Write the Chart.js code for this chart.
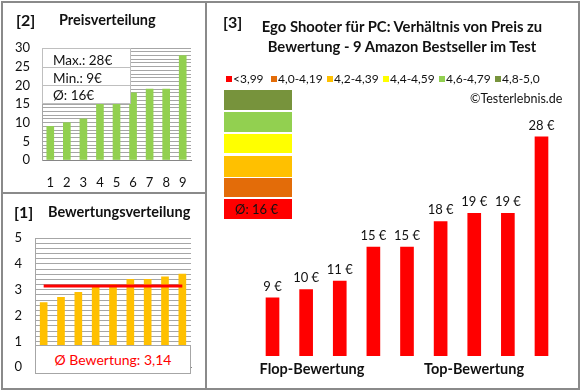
<!DOCTYPE html>
<html><head><meta charset="utf-8">
<script src="https://cdn.jsdelivr.net/npm/chart.js@4.4.0/dist/chart.umd.min.js"></script>
<style>
body{margin:0;background:#fff;font-family:Lato,"Open Sans",sans-serif;}
#wrap{position:relative;width:580px;height:390px;overflow:hidden;background:#fff;}
canvas{position:absolute;}
.a{position:absolute;white-space:nowrap;color:#111;}
.b{font-weight:bold;}
.ln{position:absolute;background:#8a8a8a;}
.sq{position:absolute;width:6px;height:6px;}
.lg{position:absolute;font-size:12px;line-height:14px;height:14px;color:#111;}
.cb{position:absolute;left:224px;width:68px;}
</style></head><body>
<div id="wrap">
  <canvas id="c2" width="205" height="192" style="left:0;top:0"></canvas>
  <canvas id="c1" width="205" height="196" style="left:0;top:192px"></canvas>
  <canvas id="c3" width="375" height="390" style="left:205px;top:0"></canvas>

  <!-- frame -->
  <div class="ln" style="left:1px;top:1px;width:579px;height:2px"></div>
  <div class="ln" style="left:1px;top:388px;width:579px;height:2px"></div>
  <div class="ln" style="left:1px;top:1px;width:2px;height:389px"></div>
  <div class="ln" style="left:578px;top:1px;width:2px;height:389px"></div>
  <div class="ln" style="left:205px;top:1px;width:2px;height:389px"></div>
  <div class="ln" style="left:1px;top:192px;width:205px;height:2px"></div>

  <!-- panel 2 -->
  <div class="a b" style="left:16px;top:11px;font-size:16px;line-height:18px">[2]</div>
  <div class="a b" style="left:59px;top:11px;font-size:14.5px;line-height:18px">Preisverteilung</div>
  <div id="statBox" class="a" style="left:42px;top:48px;width:89px;height:56px;background:#fff;border:1px solid #bfbfbf;box-sizing:border-box;font-size:13.5px;">
    <div id="sMax" style="position:absolute;left:10px;top:3px;line-height:16px"></div>
    <div style="position:absolute;left:0;top:18px;width:87px;height:1px;background:#bfbfbf"></div>
    <div id="sMin" style="position:absolute;left:10px;top:21px;line-height:16px"></div>
    <div style="position:absolute;left:0;top:36px;width:87px;height:1px;background:#bfbfbf"></div>
    <div id="sAvg" style="position:absolute;left:10px;top:38px;line-height:16px"></div>
  </div>

  <!-- panel 1 -->
  <div class="a b" style="left:14px;top:203px;font-size:16px;line-height:18px">[1]</div>
  <div class="a b" style="left:48px;top:203px;font-size:14.5px;line-height:18px">Bewertungsverteilung</div>
  <div id="avgBox" class="a" style="left:35px;top:345px;width:156px;height:29px;background:#fff;border:1px solid #a6a6a6;box-sizing:border-box;font-size:14px;line-height:27px;text-align:center;color:#ff0000"></div>

  <!-- panel 3 -->
  <div class="a b" style="left:223px;top:13px;font-size:16px;line-height:18px">[3]</div>
  <div class="a b" style="left:252px;top:17px;width:300px;text-align:center;font-size:14.8px;line-height:18px">Ego Shooter für PC: Verhältnis von Preis zu</div>
  <div class="a b" style="left:252px;top:37px;width:300px;text-align:center;font-size:14.8px;line-height:18px">Bewertung - 9 Amazon Bestseller im Test</div>
  <div id="legend"></div>
  <div class="a" style="left:470px;top:92px;font-size:12.5px;line-height:14px">©Testerlebnis.de</div>
  <div id="stack"></div>
  <div class="a" style="left:200px;top:360px;width:224px;text-align:center;font-size:14.5px;line-height:18px;font-weight:bold">Flop-Bewertung</div>
  <div class="a" style="left:362px;top:360px;width:224px;text-align:center;font-size:14.5px;line-height:18px;font-weight:bold">Top-Bewertung</div>
</div>
<script>
// ---- data ----
const productIndex = ['1','2','3','4','5','6','7','8','9'];
const prices = [9, 10, 11, 15, 15, 18, 19, 19, 28];
const ratings = [2.5, 2.7, 2.9, 3.1, 3.2, 3.4, 3.4, 3.5, 3.6];
const avgRatingLine = [3.14, 3.14, 3.14, 3.14, 3.14, 3.14, 3.14, 3.14, 3.14];
const avgRatingText = '3,14';
const maxPrice = 28;
const minPrice = 9;
const avgPrice = 16;
const priceTickLabels = [0, 5, 10, 15, 20, 25, 30];
const ratingTickLabels = [0, 1, 2, 3, 4, 5];
const legendLabels = ['<3,99', '4,0-4,19', '4,2-4,39', '4,4-4,59', '4,6-4,79', '4,8-5,0'];
const legendColors = ['#ff0000', '#e36c09', '#ffc000', '#ffff00', '#92d050', '#77933c'];

// ---- html bits ----
document.getElementById('sMax').textContent = 'Max.: ' + maxPrice + '€';
document.getElementById('sMin').textContent = 'Min.: ' + minPrice + '€';
document.getElementById('sAvg').textContent = 'Ø: ' + avgPrice + '€';
document.getElementById('avgBox').textContent = 'Ø Bewertung: ' + avgRatingText;

const legSq = [226, 271, 327, 383, 439, 495];
const legTx = [233, 278, 334, 390, 446, 502];
let lh = '';
legendLabels.forEach((l, i) => {
  lh += `<div class="sq" style="left:${legSq[i]}px;top:76px;background:${legendColors[i]}"></div>`;
  lh += `<div class="lg" style="left:${legTx[i]}px;top:72px">${l.replace('<','&lt;')}</div>`;
});
document.getElementById('legend').innerHTML = lh;

const stackTops = [90, 112, 134, 156, 178, 199];
const stackH = [20, 20, 19, 21, 19, 20];
const stackCols = ['#77933c', '#92d050', '#ffff00', '#ffc000', '#e36c09', '#ff0000'];
let sh = '';
stackCols.forEach((c, i) => {
  sh += `<div class="cb" style="top:${stackTops[i]}px;height:${stackH[i]}px;background:${c}"></div>`;
});
sh += `<div class="a" style="left:235px;top:201px;font-size:13px;line-height:16px;color:#111">Ø: ${avgPrice} €</div>`;
document.getElementById('stack').innerHTML = sh;

// ---- charts ----
const FONT = 'Lato';
const base = {responsive:false, animation:false, plugins:{legend:{display:false}, tooltip:{enabled:false}}};

new Chart(document.getElementById('c2'), {
  type: 'bar',
  data: {labels: productIndex, datasets: [{data: prices, backgroundColor: '#92d050', barThickness: 7}]},
  options: Object.assign({}, base, {
    layout: {padding: {left: 0, right: 14, top: 48, bottom: 0}},
    scales: {
      x: {grid: {display: false, drawTicks: false}, border: {color: '#868686'},
          ticks: {padding: 15, color: '#111', font: {family: FONT, size: 13}, maxRotation: 0, autoSkip: false},
          afterFit(s) { s.height = 32; }},
      y: {min: 0, max: 30, grid: {color: '#a6a6a6', drawTicks: false}, border: {color: '#a6a6a6'},
          ticks: {stepSize: 1, autoSkip: false, padding: 12, color: '#111', font: {family: FONT, size: 13},
                  callback: v => priceTickLabels.includes(v) ? String(v) : ''},
          afterFit(s) { s.width = 42; }}
    }
  })
});

new Chart(document.getElementById('c1'), {
  type: 'bar',
  data: {labels: productIndex, datasets: [
    {type: 'line', data: avgRatingLine, borderColor: '#ff0000', borderWidth: 3, pointRadius: 0, fill: false},
    {data: ratings, backgroundColor: '#ffc000', barThickness: 7}
  ]},
  options: Object.assign({}, base, {
    layout: {padding: {left: 0, right: 14, top: 46, bottom: 0}},
    scales: {
      x: {grid: {display: false, drawTicks: false}, border: {color: '#868686'}, ticks: {display: false},
          afterFit(s) { s.height = 15; }},
      y: {min: 0, max: 5, grid: {color: '#a6a6a6', drawTicks: false}, border: {color: '#a6a6a6'},
          ticks: {stepSize: 0.2, autoSkip: false, padding: 13, color: '#111', font: {family: FONT, size: 13},
                  callback: v => { const r = Math.round(v); return (Math.abs(v - r) < 1e-6 && ratingTickLabels.includes(r)) ? String(r) : ''; }},
          afterFit(s) { s.width = 35; }}
    }
  })
});

const valueLabels = {
  id: 'valueLabels',
  afterDatasetsDraw(chart) {
    const ctx = chart.ctx;
    const meta = chart.getDatasetMeta(0);
    ctx.save();
    ctx.font = '13px ' + FONT;
    ctx.fillStyle = '#111';
    ctx.textAlign = 'center';
    ctx.textBaseline = 'bottom';
    meta.data.forEach((el, i) => {
      ctx.fillText(prices[i] + ' €', el.x, el.y - 5);
    });
    ctx.restore();
  }
};

new Chart(document.getElementById('c3'), {
  type: 'bar',
  data: {labels: productIndex, datasets: [{data: prices, backgroundColor: '#ff0000', barThickness: 13}]},
  options: Object.assign({}, base, {
    layout: {padding: {left: 50.7, right: 21.7, top: 120, bottom: 34}},
    scales: {
      x: {display: false},
      y: {display: false, min: 2.15, max: 30}
    }
  }),
  plugins: [valueLabels]
});
</script>
</body></html>
